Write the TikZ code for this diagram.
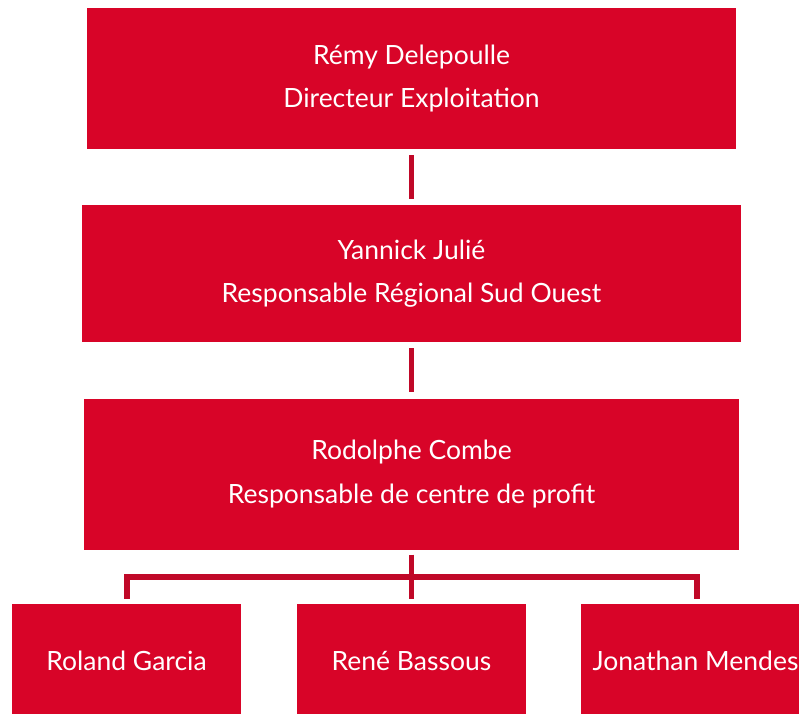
\documentclass[tikz,border=0pt]{standalone}
\usepackage{fontspec}
\setmainfont{Lato}
\definecolor{boxred}{RGB}{216,4,40}
\definecolor{linkred}{RGB}{192,8,40}
\begin{document}
\begin{tikzpicture}[x=1pt,y=-1pt,
  box/.style={fill=boxred, draw=none, text=white, align=center, inner sep=0pt,
    font=\fontsize{26.5}{43.5}\selectfont},
  link/.style={draw=linkred, line width=5.5pt, line join=miter, line cap=butt}]
\useasboundingbox (0,0) rectangle (799,713);
\node[box, minimum width=649pt, minimum height=141pt] (b1) at (411.5,78.5) {Rémy Delepoulle\\Directeur Exploitation};
\node[box, minimum width=659pt, minimum height=137pt] (b2) at (411.5,273.5) {Yannick Julié\\Responsable Régional Sud Ouest};
\node[box, minimum width=655pt, minimum height=151pt] (b3) at (411.5,474) {Rodolphe Combe\\Responsable de centre de profit};
\node[box, minimum width=229pt, minimum height=114pt] (b4) at (126.5,661) {Roland Garcia};
\node[box, minimum width=229pt, minimum height=114pt] (b5) at (411.5,661) {René Bassous};
\node[box, minimum width=229pt, minimum height=114pt] (b6) at (695.5,661) {Jonathan Mendes};
\coordinate (bar) at (411.5,577);
\draw[link] ([yshift=-6pt]b1.south) -- ([yshift=6pt]b2.north);
\draw[link] ([yshift=-6pt]b2.south) -- ([yshift=6pt]b3.north);
\draw[link] ([yshift=-5pt]b3.south) -- ([yshift=5pt]b5.north);
\draw[link] ([xshift=0.5pt,yshift=5pt]b4.north) |- (bar) -| ([xshift=1.5pt,yshift=5pt]b6.north);
\end{tikzpicture}
\end{document}
